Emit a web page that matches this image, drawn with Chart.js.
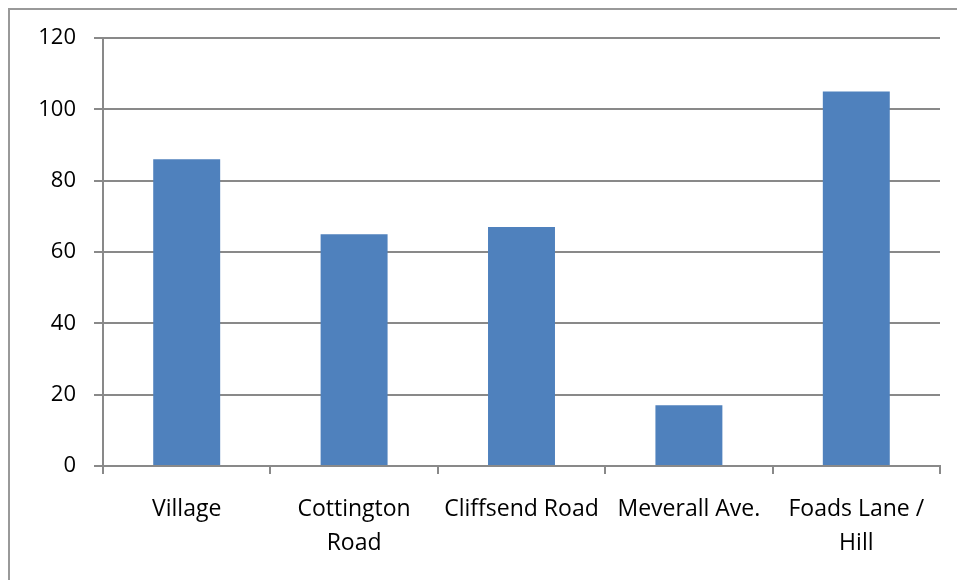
<!DOCTYPE html>
<html>
<head>
<meta charset="utf-8">
<script src="https://cdn.jsdelivr.net/npm/chart.js@4"></script>
<style>
    body { margin: 0; background: #fff; }
    #wrap { position: relative; width: 957px; height: 580px; overflow: hidden; }
    #frame { position: absolute; left: 8px; top: 8px; width: 1000px; height: 700px; border: 2px solid #999; }
    canvas { position: absolute; left: 0; top: 0; }
</style>
</head>
<body>
<div id="wrap">
    <div id="frame"></div>
    <canvas id="barChart" width="957" height="580"></canvas>
</div>
<script>
const labels = ['Village', ['Cottington', 'Road'], 'Cliffsend Road', 'Meverall Ave.', ['Foads Lane /', 'Hill']];
const values = [86, 65, 67, 17, 105];
const yTicks = [0, 20, 40, 60, 80, 100, 120];

const chart = document.getElementById('barChart');
new Chart(chart, {
    type: 'bar',
    data: {
        labels: labels,
        datasets: [{
            data: values,
            backgroundColor: '#4F81BD',
            barPercentage: 0.4,
            categoryPercentage: 1
        }]
    },
    options: {
        responsive: false,
        animation: false,
        layout: {
            padding: { left: 0, right: 17, top: 38, bottom: 0 }
        },
        scales: {
            x: {
                grid: {
                    drawOnChartArea: false,
                    tickLength: 8,
                    color: '#898989',
                    lineWidth: 2
                },
                border: { color: '#898989', width: 2 },
                ticks: {
                    color: '#000',
                    padding: 18,
                    maxRotation: 0,
                    font: { family: 'Open Sans', size: 23, lineHeight: 1.48 }
                },
                afterFit: function (scale) { scale.height = 114; }
            },
            y: {
                min: 0,
                max: 120,
                afterBuildTicks: function (scale) {
                    scale.ticks = yTicks.map(function (v) { return { value: v }; });
                },
                grid: {
                    color: '#898989',
                    lineWidth: 2,
                    tickLength: 9
                },
                border: { color: '#898989', width: 2 },
                ticks: {
                    color: '#000',
                    padding: 18,
                    font: { family: 'Open Sans', size: 22 }
                },
                afterFit: function (scale) { scale.width = 103; }
            }
        },
        plugins: {
            legend: { display: false },
            tooltip: { enabled: false }
        }
    }
});
</script>
</body>
</html>
